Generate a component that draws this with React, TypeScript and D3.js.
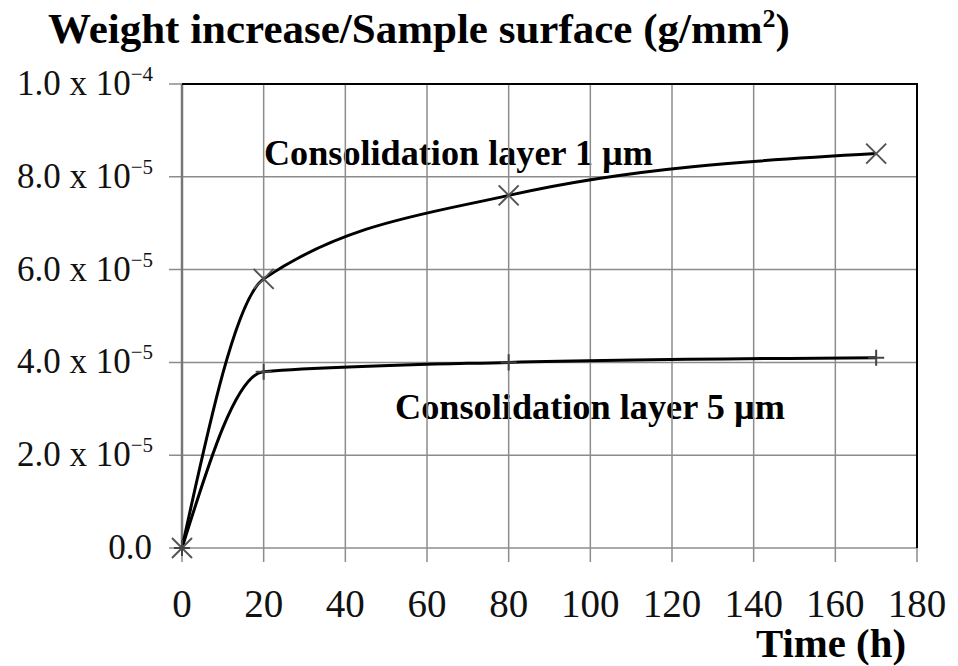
import React, { useEffect, useRef } from 'react';
import * as d3 from 'd3';

// readings
const TIME_H = [0, 20, 80, 170];
const LAYER_1UM = [0, 5.8e-5, 7.6e-5, 8.5e-5];
const LAYER_5UM = [0, 3.8e-5, 4.0e-5, 4.1e-5];
const X_TICKS = [0, 20, 40, 60, 80, 100, 120, 140, 160, 180];
const Y_TICKS = [0, 2e-5, 4e-5, 6e-5, 8e-5, 1e-4];
const Y_TICK_MANT = ['0.0', '2.0', '4.0', '6.0', '8.0', '1.0'];
const Y_TICK_EXP = ['', '-5', '-5', '-5', '-5', '-4'];

const WIDTH = 958;
const HEIGHT = 666;
const PLOT = { left: 182, right: 917, top: 84, bottom: 548 };

const App = () => {
  const ref = useRef<SVGSVGElement>(null);

  useEffect(() => {
    const svg = d3.select(ref.current);
    svg.selectAll('*').remove();

    const x = d3.scaleLinear().domain([0, 180]).range([PLOT.left, PLOT.right]);
    const y = d3.scaleLinear().domain([0, 1e-4]).range([PLOT.bottom, PLOT.top]);

    const bold = '"Liberation Serif", "Times New Roman", serif';

    // series labels sit under the grid in the original
    svg.append('text')
      .attr('x', 264).attr('y', 165)
      .attr('font-family', bold).attr('font-weight', 'bold').attr('font-size', 35)
      .attr('textLength', 389).attr('lengthAdjust', 'spacingAndGlyphs')
      .text('Consolidation layer 1 \u00b5m');
    svg.append('text')
      .attr('x', 395).attr('y', 419)
      .attr('font-family', bold).attr('font-weight', 'bold').attr('font-size', 35)
      .attr('textLength', 390).attr('lengthAdjust', 'spacingAndGlyphs')
      .text('Consolidation layer 5 \u00b5m');

    const grid = svg.append('g').attr('stroke', '#8c8c8c').attr('stroke-width', 1.5);
    X_TICKS.forEach((t) => {
      grid.append('line')
        .attr('x1', x(t)).attr('x2', x(t))
        .attr('y1', PLOT.top).attr('y2', PLOT.bottom + 14);
    });
    Y_TICKS.forEach((t) => {
      grid.append('line')
        .attr('x1', PLOT.left - 13).attr('x2', PLOT.right)
        .attr('y1', y(t)).attr('y2', y(t));
    });

    // left axis line is a bit heavier, top + right border black
    svg.append('line')
      .attr('x1', PLOT.left).attr('x2', PLOT.left)
      .attr('y1', PLOT.top).attr('y2', PLOT.bottom)
      .attr('stroke', '#777').attr('stroke-width', 2.5);
    svg.append('path')
      .attr('d', `M${PLOT.left},${PLOT.top}H${PLOT.right}V${PLOT.bottom}`)
      .attr('fill', 'none').attr('stroke', '#000').attr('stroke-width', 2);

    // y tick labels
    const yl = svg.append('g')
      .attr('font-family', '"Liberation Serif", "DejaVu Serif", serif')
      .attr('fill', '#111');
    Y_TICKS.forEach((t, i) => {
      const txt = yl.append('text')
        .attr('x', 153)
        .attr('y', y(t) + 11)
        .attr('text-anchor', 'end')
        .attr('font-size', 35);
      if (Y_TICK_EXP[i]) {
        txt.append('tspan').text(`${Y_TICK_MANT[i]} x 10`);
        txt.append('tspan').attr('font-size', 21).attr('dy', -14).text(Y_TICK_EXP[i].replace('-', '\u2212'));
      } else {
        txt.attr('x', 152).text(Y_TICK_MANT[i]);
      }
    });

    // x tick labels
    svg.append('g')
      .attr('font-family', '"Liberation Serif", "DejaVu Serif", serif')
      .attr('font-size', 39)
      .attr('fill', '#111')
      .attr('text-anchor', 'middle')
      .selectAll('text')
      .data(X_TICKS)
      .enter()
      .append('text')
      .attr('x', (d) => x(d))
      .attr('y', 617)
      .text((d) => d);

    // curves
    const line = d3.line<number>()
      .x((_, i) => x(TIME_H[i]))
      .y((d) => y(d))
      .curve(d3.curveMonotoneX);

    [LAYER_1UM, LAYER_5UM].forEach((series) => {
      svg.append('path')
        .attr('d', line(series))
        .attr('fill', 'none')
        .attr('stroke', '#000')
        .attr('stroke-width', 3);
    });

    const times = d3.symbol().type(d3.symbolTimes).size(263);
    const plus = d3.symbol().type(d3.symbolPlus).size(86);
    svg.append('g').selectAll('path')
      .data(LAYER_1UM)
      .enter()
      .append('path')
      .attr('d', times)
      .attr('transform', (d, i) => `translate(${x(TIME_H[i])},${y(d)})`)
      .attr('fill', 'none')
      .attr('stroke', '#555')
      .attr('stroke-width', 2);
    svg.append('g').selectAll('path')
      .data(LAYER_5UM)
      .enter()
      .append('path')
      .attr('d', plus)
      .attr('transform', (d, i) => `translate(${x(TIME_H[i])},${y(d)})`)
      .attr('fill', 'none')
      .attr('stroke', '#444')
      .attr('stroke-width', 2);

    svg.append('text')
      .attr('x', 906).attr('y', 657)
      .attr('text-anchor', 'end')
      .attr('font-family', bold).attr('font-weight', 'bold').attr('font-size', 39)
      .attr('textLength', 150).attr('lengthAdjust', 'spacingAndGlyphs')
      .text('Time (h)');

    const title = svg.append('text')
      .attr('x', 48).attr('y', 43)
      .attr('font-family', bold).attr('font-weight', 'bold').attr('font-size', 43);
    title.append('tspan').text('Weight increase/Sample surface (g/mm');
    title.append('tspan').attr('font-size', 26).attr('dy', -16).text('2');
    title.append('tspan').attr('dy', 16).text(')');
  }, []);

  return (
    <svg
      ref={ref}
      width={WIDTH}
      height={HEIGHT}
      style={{ position: 'absolute', left: 0, top: 0, background: '#fff' }}
    />
  );
};

export default App;
